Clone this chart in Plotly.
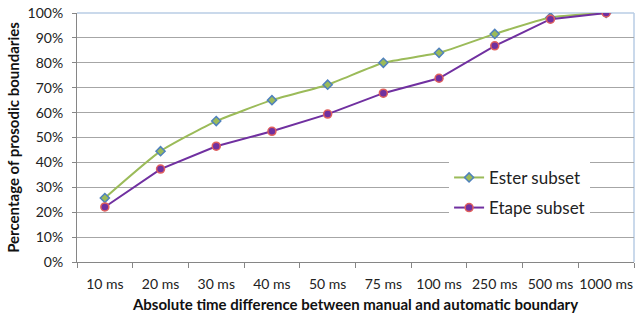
import plotly.graph_objects as go

categories = ["10 ms", "20 ms", "30 ms", "40 ms", "50 ms", "75 ms", "100 ms", "250 ms", "500 ms", "1000 ms"]
ester = [0.257, 0.445, 0.566, 0.650, 0.712, 0.800, 0.840, 0.916, 0.982, 1.000]
etape = [0.221, 0.373, 0.465, 0.525, 0.594, 0.678, 0.738, 0.868, 0.975, 1.000]
y_ticks = [0, 0.1, 0.2, 0.3, 0.4, 0.5, 0.6, 0.7, 0.8, 0.9, 1.0]

FONT = "Lato"

fig = go.Figure()
fig.add_trace(go.Scatter(
    x=categories, y=ester, name="Ester subset", mode="lines+markers",
    line=dict(color="#9BBB59", width=2, shape="spline", smoothing=0.5),
    marker=dict(symbol="diamond", size=7, color="#9BBB59",
                line=dict(color="#4F81BD", width=1.5)),
    legendgroup="a",
))
fig.add_trace(go.Scatter(
    x=categories, y=etape, name="Etape subset", mode="lines+markers",
    line=dict(color="#7030A0", width=2),
    marker=dict(symbol="circle", size=8, color="#7030A0",
                line=dict(color="#E0605D", width=1.5)),
    legendgroup="b",
))

fig.update_layout(
    width=635, height=320,
    margin=dict(l=77, r=1, t=13, b=58),
    paper_bgcolor="white", plot_bgcolor="white",
    font=dict(family=FONT, size=14, color="#222222"),
    showlegend=True,
    legend=dict(
        x=0.668, y=0.41, xanchor="left", yanchor="top",
        bgcolor="white", borderwidth=0,
        font=dict(family=FONT, size=17, color="#222222"),
        traceorder="grouped", tracegroupgap=5,
        itemwidth=30,
    ),
    xaxis=dict(
        type="category", categoryorder="array", categoryarray=categories,
        range=[-0.5, 9.5],
        showgrid=False, showline=True, linecolor="#868686", linewidth=1,
        ticks="outside", tickson="boundaries", ticklen=5, tickcolor="#868686",
        tickangle=0, ticklabelstandoff=9,
        tickfont=dict(family=FONT, size=14, color="#222222"),
        title=dict(text="<b>Absolute time difference between manual and automatic boundary</b>",
                   font=dict(family=FONT, size=15, color="#111111"), standoff=8),
    ),
    yaxis=dict(
        range=[0, 1], tickvals=y_ticks, tickformat=".0%",
        showgrid=True, gridcolor="#A6A6A6", gridwidth=1,
        showline=True, linecolor="#868686", linewidth=1,
        ticks="outside", ticklen=4, tickcolor="#868686",
        ticklabelstandoff=6,
        zeroline=False,
        tickfont=dict(family=FONT, size=14, color="#222222"),
        title=dict(text="<b>Percentage of prosodic boundaries</b>",
                   font=dict(family=FONT, size=15, color="#111111"), standoff=4),
    ),
    shapes=[
        dict(type="line", xref="paper", yref="paper", x0=0, x1=1, y0=1, y1=1,
             line=dict(color="#B9CDE5", width=1.5), layer="below"),
        dict(type="line", xref="paper", yref="paper", x0=1, x1=1, y0=0, y1=1,
             line=dict(color="#B9CDE5", width=1.5), layer="below"),
    ],
)

fig.write_html("out.html")
